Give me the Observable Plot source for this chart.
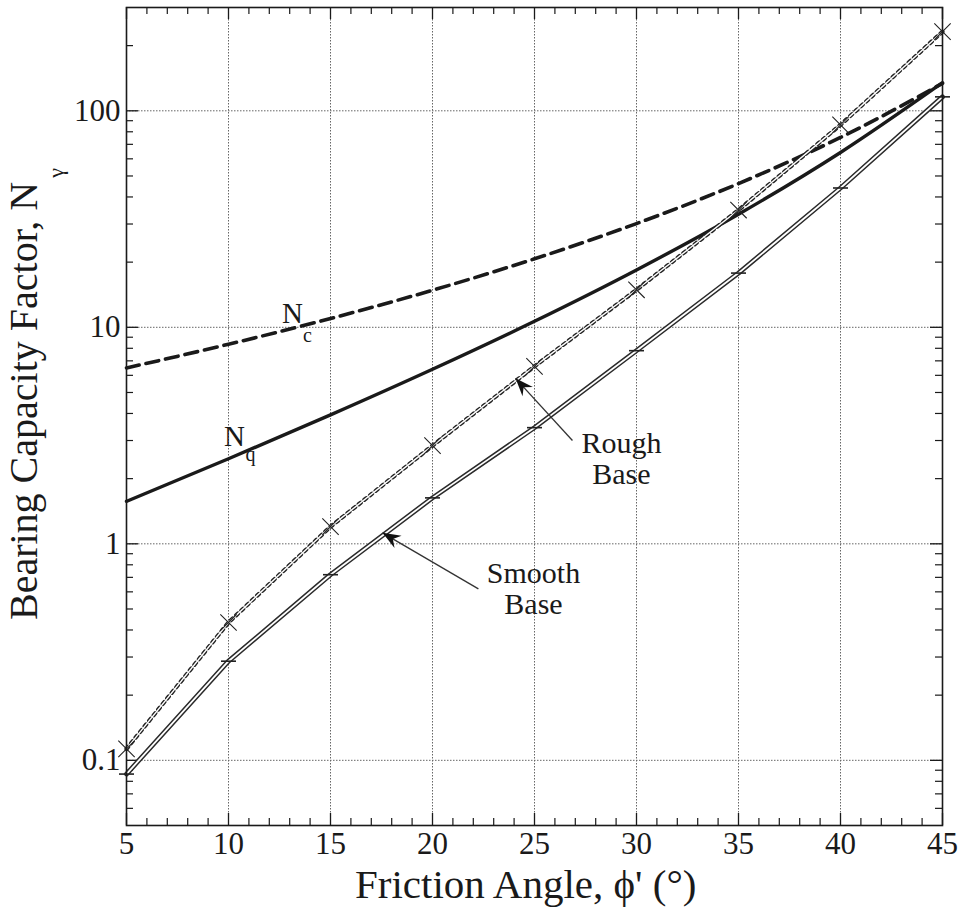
<!DOCTYPE html>
<html>
<head>
<meta charset="utf-8">
<script src="https://cdn.jsdelivr.net/npm/d3@7"></script>
<script src="https://cdn.jsdelivr.net/npm/@observablehq/plot@0.6"></script>
<style>
  body { margin: 0; background: #fff; }
  svg { display: block; }
</style>
</head>
<body>
<div id="chart"></div>
<script>
// Bearing capacity factors versus friction angle
const angle = [5, 10, 15, 20, 25, 30, 35, 40, 45];
const nc = [6.49, 8.35, 10.98, 14.83, 20.72, 30.14, 46.12, 75.31, 133.88];
const nq = [1.57, 2.47, 3.94, 6.40, 10.66, 18.40, 33.30, 64.20, 134.87];
const roughBase = [0.113, 0.433, 1.20, 2.84, 6.6, 14.9, 34.8, 86.1, 232];
const smoothBase = [0.0864, 0.287, 0.72, 1.63, 3.44, 7.8, 17.8, 44.0, 116];

const xTicks = [5, 10, 15, 20, 25, 30, 35, 40, 45];
const yTicks = [0.1, 1, 10, 100];
const xMinor = d3.range(6, 45).filter(d => d % 5 !== 0);
const yMinor = [0.06, 0.07, 0.08, 0.09, 0.2, 0.3, 0.4, 0.5, 0.6, 0.7, 0.8, 0.9,
                2, 3, 4, 5, 6, 7, 8, 9, 20, 30, 40, 50, 60, 70, 80, 90, 200];

const rows = angle.map((a, i) => ({
  angle: a, nc: nc[i], nq: nq[i], rough: roughBase[i], smooth: smoothBase[i]
}));

const width = 965, height = 913;
const margin = {top: 7, right: 23, bottom: 88, left: 126};
const plotW = width - margin.left - margin.right;
const plotH = height - margin.top - margin.bottom;
const xDomain = [5, 45], yDomain = [0.05, 300];

// Annotation arrows (data units): tail (x1, y1) to tip (x2, y2)
const arrows = [
  {x1: 26.86, y1: 3.0, x2: 24.07, y2: 5.81},
  {x1: 22.25, y1: 0.619, x2: 17.55, y2: 1.124}
];

// Same scales as the chart, used to orient the filled arrowheads
const xs = Plot.scale({x: {domain: xDomain, range: [margin.left, width - margin.right]}});
const ys = Plot.scale({y: {type: "log", domain: yDomain, range: [height - margin.bottom, margin.top]}});
const heads = arrows.map(a => ({
  x: a.x2, y: a.y2,
  angle: Math.atan2(ys.apply(a.y2) - ys.apply(a.y1), xs.apply(a.x2) - xs.apply(a.x1)) * 180 / Math.PI
}));

// Filled, notched arrowhead pointing along +x with its tip at the origin
const arrowHead = {
  draw(context) {
    context.moveTo(0, 0);
    context.lineTo(-18, -7);
    context.lineTo(-12, 0);
    context.lineTo(-18, 7);
    context.closePath();
  }
};
// Short horizontal dash marker
const dash = {
  draw(context, size) {
    const r = Math.sqrt(size / Math.PI);
    context.moveTo(-r, 0);
    context.lineTo(r, 0);
  }
};

const ink = "#1a1a1a";

const chart = Plot.plot({
  width, height,
  marginTop: margin.top, marginRight: margin.right,
  marginBottom: margin.bottom, marginLeft: margin.left,
  style: {fontFamily: "'Liberation Serif', 'Times New Roman', serif", background: "#fff", color: ink},
  x: {domain: xDomain},
  y: {type: "log", domain: yDomain},
  marks: [
    // dotted grid at major ticks
    Plot.ruleX(xTicks, {stroke: "#666", strokeWidth: 1, strokeDasharray: "1.5,1.5"}),
    Plot.ruleY(yTicks, {stroke: "#666", strokeWidth: 1, strokeDasharray: "1.5,1.5"}),

    // inward ticks on all four sides
    Plot.ruleX(xTicks, {stroke: ink, strokeWidth: 1.3, insetTop: plotH - 12}),
    Plot.ruleX(xTicks, {stroke: ink, strokeWidth: 1.3, insetBottom: plotH - 12}),
    Plot.ruleX(xMinor, {stroke: ink, strokeWidth: 1.2, insetTop: plotH - 7}),
    Plot.ruleX(xMinor, {stroke: ink, strokeWidth: 1.2, insetBottom: plotH - 7}),
    Plot.ruleY(yTicks, {stroke: ink, strokeWidth: 1.3, insetRight: plotW - 12}),
    Plot.ruleY(yTicks, {stroke: ink, strokeWidth: 1.3, insetLeft: plotW - 12}),
    Plot.ruleY(yMinor, {stroke: ink, strokeWidth: 1.2, insetRight: plotW - 7}),
    Plot.ruleY(yMinor, {stroke: ink, strokeWidth: 1.2, insetLeft: plotW - 7}),

    // tick labels
    Plot.axisX({ticks: xTicks, tickSize: 0, tickPadding: 6, fontSize: 31, tickFormat: d => String(d), label: null}),
    Plot.axisY({ticks: yTicks, tickSize: 0, tickPadding: 6, fontSize: 31, tickFormat: d => String(d), label: null}),

    // Nc: dashed
    Plot.line(rows, {x: "angle", y: "nc", curve: "monotone-x", stroke: ink, strokeWidth: 3.6, strokeDasharray: "13,7"}),
    // Nq: solid
    Plot.line(rows, {x: "angle", y: "nq", curve: "monotone-x", stroke: ink, strokeWidth: 3.4}),

    // Rough base: double dotted line with × markers
    Plot.line(rows, {x: "angle", y: "rough", stroke: "#222", strokeWidth: 4.2, strokeDasharray: "2.6,4.6"}),
    Plot.line(rows, {x: "angle", y: "rough", stroke: "#fff", strokeWidth: 1.4}),
    Plot.dot(rows, {x: "angle", y: "rough", symbol: "times", r: 7.5, stroke: "#222", strokeWidth: 1.1}),

    // Smooth base: double solid line with dash markers
    Plot.line(rows, {x: "angle", y: "smooth", stroke: "#2a2a2a", strokeWidth: 4.8}),
    Plot.line(rows, {x: "angle", y: "smooth", stroke: "#fff", strokeWidth: 1.8}),
    Plot.dot(rows, {x: "angle", y: "smooth", symbol: dash, r: 7.5, fill: "none", stroke: "#222", strokeWidth: 1.6}),

    // curve labels with subscripts
    Plot.text([{t: "N", x: 13.14, y: 11.6}, {t: "N", x: 10.29, y: 3.13}],
      {x: "x", y: "y", text: "t", fontSize: 29, fill: ink}),
    Plot.text([{t: "c", x: 13.87, y: 9.12}, {t: "q", x: 11.08, y: 2.59}],
      {x: "x", y: "y", text: "t", fontSize: 20, fill: ink}),

    // base labels and leader arrows
    Plot.text([{t: "Rough\nBase", x: 29.26, y: 2.47}, {t: "Smooth\nBase", x: 24.95, y: 0.62}],
      {x: "x", y: "y", text: "t", fontSize: 30, lineHeight: 1.03, fill: ink}),
    Plot.link(arrows, {x1: "x1", y1: "y1", x2: "x2", y2: "y2", stroke: "#333", strokeWidth: 1.3}),
    Plot.dot(heads, {x: "x", y: "y", rotate: "angle", symbol: arrowHead, fill: "#111", stroke: "none", r: 8}),

    Plot.frame({stroke: ink, strokeWidth: 1.6})
  ]
});

const svg = d3.select(chart);

// x axis title
svg.append("text")
  .attr("x", 355).attr("y", 898)
  .attr("font-size", 41)
  .attr("fill", ink)
  .attr("text-anchor", "start")
  .text("Friction Angle, ϕ' (°)");

// y axis title with subscript gamma
const yTitle = svg.append("text")
  .attr("transform", "translate(37,620) rotate(-90)")
  .attr("font-size", 40)
  .attr("fill", ink)
  .attr("text-anchor", "start");
yTitle.append("tspan").text("Bearing Capacity Factor, N");
yTitle.append("tspan").attr("dx", 4).attr("dy", 26).attr("font-size", 22).text("γ");

document.getElementById("chart").append(chart);
</script>
</body>
</html>
